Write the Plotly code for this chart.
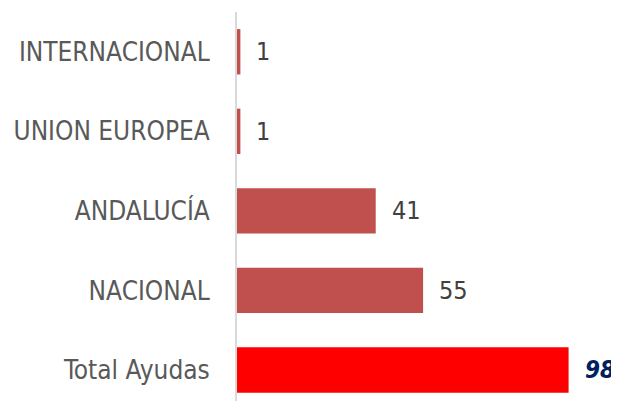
import plotly.graph_objects as go

categories = ["Total Ayudas", "NACIONAL", "ANDALUCÍA", "UNION EUROPEA", "INTERNACIONAL"]
values = [98, 55, 41, 1, 1]
bar_colors = ["#FF0000", "#C0504D", "#C0504D", "#C0504D", "#C0504D"]

FONT = "Liberation Sans Narrow, Arial Narrow, DejaVu Sans Condensed, sans-serif"

fig = go.Figure()
fig.add_trace(go.Bar(
    x=values, y=categories, orientation="h",
    marker=dict(color=bar_colors, line=dict(width=0)),
    width=0.57, hoverinfo="skip",
))

for c, v in zip(categories, values):
    is_total = c == "Total Ayudas"
    fig.add_annotation(
        x=v, y=c, text=f"<b><i>{v}</i></b>" if is_total else str(v),
        showarrow=False, xanchor="left", xshift=14,
        font=dict(family=FONT, size=24 if is_total else 25,
                  color="#002060" if is_total else "#404040"),
    )

# page body has an 8px default margin, so the figure is sized/offset to compensate
fig.update_layout(
    width=611, height=393,
    margin=dict(l=229, r=0, t=4, b=0, autoexpand=False),
    paper_bgcolor="white", plot_bgcolor="white",
    showlegend=False,
    xaxis=dict(range=[0, 112.9], visible=False, fixedrange=True),
    yaxis=dict(
        range=[-0.39, 4.5], categoryorder="array", categoryarray=categories,
        showline=True, linecolor="#D9D9D9", linewidth=2,
        showgrid=False, zeroline=False, automargin=False,
        ticks="outside", ticklen=20, tickcolor="rgba(0,0,0,0)",
        tickfont=dict(family=FONT, size=26, color="#595959"),
    ),
)

fig.write_html("out.html")
